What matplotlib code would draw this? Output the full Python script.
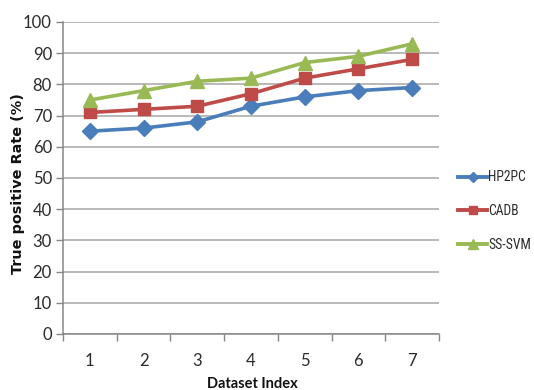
import matplotlib
matplotlib.use("Agg")
import matplotlib.pyplot as plt
from matplotlib.lines import Line2D
from matplotlib.ticker import FixedLocator

datasets = [1, 2, 3, 4, 5, 6, 7]
hp2pc = [65, 66, 68, 73, 76, 78, 79]
cadb = [71, 72, 73, 77, 82, 85, 88]
ss_svm = [75, 78, 81, 82, 87, 89, 93]
y_ticks = [0, 10, 20, 30, 40, 50, 60, 70, 80, 90, 100]

tick_font = ["Lato", "DejaVu Sans"]
narrow_font = ["Roboto Condensed", "DejaVu Sans Condensed", "Liberation Sans Narrow", "Lato"]
label_font = ["DejaVu Sans"]

fig = plt.figure(figsize=(5.34, 3.90), dpi=100)
ax = fig.add_axes([63 / 534, 1 - 334 / 390, (439 - 63) / 534, (334 - 22) / 390])

series = [
    ("HP2PC", hp2pc, "#4A7EBB", "D", 8),
    ("CADB", cadb, "#BE4B48", "s", 9),
    ("SS-SVM", ss_svm, "#98B954", "^", 10),
]
handles = []
for name, vals, color, marker, ms in series:
    ax.plot(datasets, vals, color=color, lw=2.6, marker=marker, ms=ms,
            markeredgecolor=color, zorder=3)
    handles.append(Line2D([], [], color=color, lw=2.8, marker=marker,
                          ms=ms * 0.7, markeredgecolor=color))

ax.set_xlim(0.5, 7.5)
ax.set_ylim(0, 100)
ax.set_yticks(y_ticks)
ax.set_xticks(datasets)
ax.xaxis.set_minor_locator(FixedLocator([i + 0.5 for i in range(0, 8)]))
ax.tick_params(axis="x", which="major", length=0, pad=14)
ax.tick_params(axis="x", which="minor", length=5, color="#868686", width=1)
ax.tick_params(axis="y", length=5, color="#868686", width=1, pad=3)

for lab in ax.get_xticklabels() + ax.get_yticklabels():
    lab.set_fontfamily(tick_font)
    lab.set_fontsize(12)
    lab.set_color("#2b2b2b")

ax.grid(axis="y", color="#A6A6A6", lw=1.1)
ax.set_axisbelow(True)
for side in ("top", "right"):
    ax.spines[side].set_visible(False)
for side in ("left", "bottom"):
    ax.spines[side].set_color("#868686")
    ax.spines[side].set_linewidth(1.1)

fig.text(18 / 534, 1 - 184 / 390, "True positive Rate (%)", rotation=90,
         ha="center", va="center", fontsize=10.4, fontweight="bold",
         family=label_font, color="#111111")
fig.text(252 / 534, 1 - 384 / 390, "Dataset Index", ha="center",
         va="center", fontsize=10.5, fontweight="bold",
         family=["Lato", "DejaVu Sans"], color="#111111")

fontsize_leg = 9.8
leg = fig.legend(handles, [s[0] for s in series], loc="center left",
                 bbox_to_anchor=(458 / 534, 1 - 211 / 390), frameon=False,
                 borderaxespad=0, borderpad=0,
                 handlelength=29 * 0.72 / fontsize_leg, handletextpad=0.08,
                 labelspacing=1.45,
                 prop={"family": narrow_font, "size": fontsize_leg})
for t in leg.get_texts():
    t.set_color("#2b2b2b")

fig.savefig("out.png", dpi=100)
